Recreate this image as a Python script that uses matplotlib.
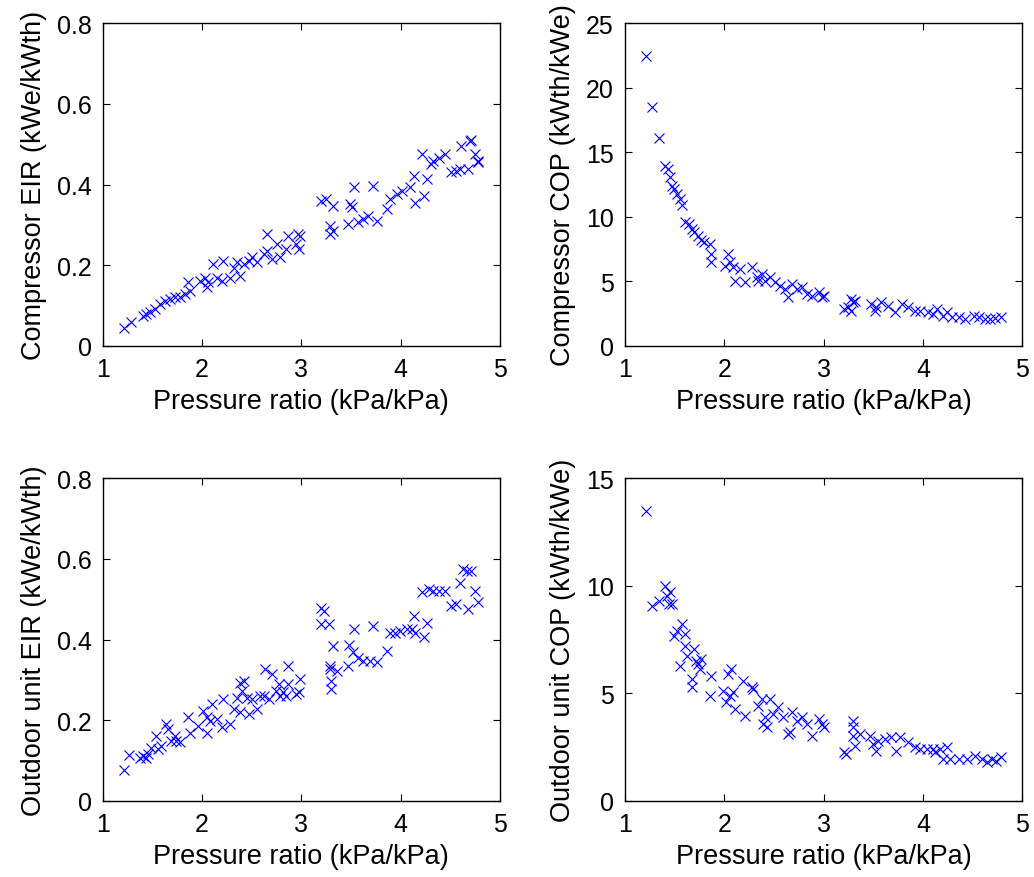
import matplotlib

matplotlib.use("Agg")
import matplotlib.pyplot as plt
from matplotlib.ticker import FuncFormatter

plt.rcParams["font.family"] = ["Liberation Sans", "DejaVu Sans"]

# compressor EIR vs pressure ratio
ce_x = [1.21, 1.29, 1.41, 1.44, 1.48, 1.53, 1.58, 1.63, 1.68, 1.73, 1.78, 1.83,
        1.86, 1.88, 1.98, 2.03, 2.05, 2.06, 2.11, 2.15, 2.21, 2.20, 2.28, 2.32,
        2.35, 2.38, 2.42, 2.47, 2.50, 2.55, 2.62, 2.65, 2.65, 2.70, 2.75, 2.79,
        2.85, 2.87, 2.97, 2.99, 2.98, 2.95,
        3.20, 3.25, 3.32, 3.29, 3.29, 3.32, 3.47, 3.49, 3.51, 3.53, 3.57, 3.62,
        3.67, 3.72, 3.76, 3.86, 3.89, 3.96, 4.01, 4.09, 4.13, 4.14, 4.23, 4.26,
        4.21, 4.30, 4.33, 4.39, 4.45, 4.51, 4.56, 4.61, 4.60, 4.68, 4.70, 4.71,
        4.75, 4.78, 4.78]
ce_y = [0.045, 0.058, 0.074, 0.079, 0.083, 0.091, 0.103, 0.112, 0.116, 0.120, 0.120, 0.128,
        0.157, 0.136, 0.161, 0.169, 0.145, 0.157, 0.202, 0.169, 0.211, 0.161, 0.169, 0.194,
        0.207, 0.174, 0.202, 0.211, 0.219, 0.207, 0.227, 0.277, 0.236, 0.215, 0.252, 0.219,
        0.240, 0.273, 0.277, 0.273, 0.240, 0.252,
        0.360, 0.364, 0.347, 0.298, 0.277, 0.285, 0.302, 0.351, 0.343, 0.393, 0.306, 0.314,
        0.322, 0.397, 0.310, 0.339, 0.364, 0.376, 0.384, 0.393, 0.421, 0.355, 0.372, 0.413,
        0.475, 0.450, 0.459, 0.467, 0.475, 0.430, 0.434, 0.496, 0.438, 0.438, 0.508, 0.510,
        0.475, 0.455, 0.459]

# compressor COP vs pressure ratio
cc_x = [1.21, 1.275, 1.34, 1.40, 1.43, 1.45, 1.47, 1.49, 1.52, 1.55, 1.57, 1.60,
        1.64, 1.67, 1.70, 1.74, 1.77, 1.80, 1.86, 1.87, 1.87, 2.01, 2.04, 2.06,
        2.09, 2.11, 2.16, 2.21, 2.28, 2.33, 2.34, 2.38, 2.41, 2.46, 2.51, 2.56,
        2.61, 2.64, 2.68, 2.73, 2.78, 2.83, 2.88, 2.95, 2.98, 3.00,
        3.21, 3.25, 3.28, 3.30, 3.32, 3.28, 3.48, 3.52, 3.53, 3.58, 3.65, 3.72,
        3.79, 3.85, 3.92, 3.97, 4.05, 4.10, 4.14, 4.20, 4.24, 4.29, 4.36, 4.42,
        4.51, 4.56, 4.62, 4.67, 4.72, 4.79]
cc_y = [22.5, 18.55, 16.1, 13.95, 13.7, 13.05, 12.4, 12.15, 11.75, 11.4, 10.9, 9.56,
        9.43, 9.04, 8.79, 8.53, 8.19, 8.01, 7.88, 7.11, 6.46, 6.20, 7.11, 6.46,
        6.07, 5.04, 5.94, 4.91, 6.07, 5.30, 5.04, 5.56, 5.04, 5.30, 4.91, 4.65,
        4.39, 3.75, 4.78, 4.39, 4.52, 4.00, 3.88, 4.13, 3.75, 3.88,
        2.84, 2.97, 3.62, 3.36, 3.49, 2.71, 3.23, 2.71, 2.97, 3.36, 3.10, 2.58,
        3.23, 2.97, 2.71, 2.71, 2.58, 2.45, 2.84, 2.33, 2.58, 2.20, 2.20, 2.07,
        2.33, 2.20, 2.07, 2.07, 2.14, 2.20]

# outdoor unit EIR vs pressure ratio
oe_x = [1.21, 1.27, 1.38, 1.41, 1.44, 1.46, 1.49, 1.54, 1.56, 1.59, 1.64, 1.66,
        1.69, 1.73, 1.74, 1.78, 1.86, 1.88, 1.96, 2.01, 2.05, 2.05, 2.08, 2.10,
        2.15, 2.20, 2.21, 2.28, 2.32, 2.35, 2.38, 2.40, 2.42, 2.38, 2.45, 2.47,
        2.50, 2.55, 2.58, 2.62, 2.63, 2.67, 2.70, 2.74, 2.77, 2.79, 2.82, 2.85,
        2.87, 2.87, 2.95, 2.98, 2.99,
        3.20, 3.23, 3.20, 3.28, 3.29, 3.29, 3.30, 3.30, 3.32, 3.36, 3.47, 3.48,
        3.52, 3.53, 3.57, 3.62, 3.69, 3.72, 3.76, 3.86, 3.89, 3.94, 3.99, 4.06,
        4.11, 4.13, 4.14, 4.23, 4.26, 4.21, 4.28, 4.33, 4.39, 4.45, 4.51, 4.56,
        4.60, 4.63, 4.67, 4.71, 4.68, 4.75, 4.78]
oe_y = [0.076, 0.113, 0.107, 0.112, 0.107, 0.116, 0.132, 0.161, 0.128, 0.136, 0.190, 0.178,
        0.149, 0.161, 0.149, 0.145, 0.207, 0.169, 0.186, 0.223, 0.207, 0.169, 0.198, 0.240,
        0.202, 0.182, 0.252, 0.190, 0.227, 0.256, 0.293, 0.273, 0.298, 0.219, 0.256, 0.215,
        0.252, 0.227, 0.260, 0.260, 0.326, 0.252, 0.314, 0.273, 0.289, 0.260, 0.269, 0.260,
        0.335, 0.289, 0.264, 0.269, 0.302,
        0.479, 0.471, 0.438, 0.438, 0.335, 0.326, 0.298, 0.277, 0.384, 0.322, 0.335, 0.386,
        0.368, 0.427, 0.355, 0.347, 0.347, 0.434, 0.345, 0.372, 0.417, 0.417, 0.421, 0.426,
        0.426, 0.459, 0.417, 0.405, 0.442, 0.517, 0.525, 0.521, 0.521, 0.521, 0.483, 0.488,
        0.541, 0.574, 0.570, 0.570, 0.475, 0.521, 0.492]

# outdoor unit COP vs pressure ratio
oc_x = [1.21, 1.275, 1.34, 1.40, 1.42, 1.45, 1.44, 1.47, 1.49, 1.52, 1.57, 1.60,
        1.60, 1.55, 1.62, 1.67, 1.67, 1.70, 1.72, 1.74, 1.77, 1.76, 1.87, 1.86,
        1.99, 2.04, 2.07, 2.02, 2.06, 2.09, 2.11, 2.19, 2.21, 2.28, 2.29, 2.34,
        2.38, 2.39, 2.41, 2.43, 2.46, 2.49, 2.54, 2.59, 2.64, 2.66, 2.68, 2.73,
        2.78, 2.83, 2.88, 2.95, 2.98, 3.00,
        3.21, 3.23, 3.30, 3.30, 3.30, 3.32, 3.37, 3.47, 3.50, 3.53, 3.55, 3.62,
        3.68, 3.73, 3.77, 3.85, 3.92, 3.97, 4.04, 4.10, 4.12, 4.17, 4.24, 4.20,
        4.27, 4.36, 4.44, 4.52, 4.59, 4.64, 4.69, 4.74, 4.79]
oc_y = [13.5, 9.04, 9.3, 10.0, 9.53, 9.69, 9.15, 9.15, 7.67, 7.91, 8.22, 7.75,
        7.21, 6.28, 6.74, 5.66, 5.27, 7.05, 6.51, 6.36, 6.59, 6.12, 5.81, 4.88,
        5.12, 5.89, 6.12, 4.57, 4.88, 5.04, 4.26, 5.58, 3.95, 5.27, 5.19, 4.42,
        4.73, 3.57, 3.88, 3.41, 4.73, 4.03, 4.34, 3.88, 3.10, 3.18, 4.11, 3.72,
        3.88, 3.57, 3.02, 3.80, 3.57, 3.41,
        2.25, 2.17, 3.72, 3.41, 3.02, 2.56, 3.10, 3.02, 2.64, 2.33, 2.79, 2.87,
        2.95, 2.33, 2.95, 2.71, 2.48, 2.40, 2.40, 2.40, 2.25, 2.40, 2.48, 1.94,
        1.94, 1.94, 1.94, 2.09, 1.94, 1.78, 1.94, 1.86, 2.02]

x_label = "Pressure ratio (kPa/kPa)"
panels = [
    (ce_x, ce_y, "Compressor EIR (kWe/kWth)", [0, 0.2, 0.4, 0.6, 0.8]),
    (cc_x, cc_y, "Compressor COP (kWth/kWe)", [0, 5, 10, 15, 20, 25]),
    (oe_x, oe_y, "Outdoor unit EIR (kWe/kWth)", [0, 0.2, 0.4, 0.6, 0.8]),
    (oc_x, oc_y, "Outdoor unit COP (kWth/kWe)", [0, 5, 10, 15]),
]
rects = [
    (0.0993, 0.6051, 0.3843, 0.3672),
    (0.6044, 0.6051, 0.3843, 0.3672),
    (0.0993, 0.0869, 0.3843, 0.3672),
    (0.6044, 0.0869, 0.3843, 0.3672),
]


def fmt(v, _pos):
    return "%g" % v


fig = plt.figure(figsize=(10.34, 8.78), dpi=100)
for (xs, ys, ylab, yt), rect in zip(panels, rects):
    ax = fig.add_axes(rect)
    ax.plot(xs, ys, "x", color="#0000ff", markersize=7, markeredgewidth=0.8)
    ax.set_xlim(1, 5)
    ax.set_ylim(yt[0], yt[-1])
    ax.set_xticks([1, 2, 3, 4, 5])
    ax.set_yticks(yt)
    ax.yaxis.set_major_formatter(FuncFormatter(fmt))
    ax.tick_params(direction="in", top=True, right=True, length=5,
                   width=0.8, labelsize=18, pad=8)
    for sp in ax.spines.values():
        sp.set_linewidth(1.0)
    ax.set_xlabel(x_label, fontsize=19.5, labelpad=5)
    ax.set_ylabel(ylab, fontsize=19.5, labelpad=7)

fig.savefig("out.png", dpi=100)
